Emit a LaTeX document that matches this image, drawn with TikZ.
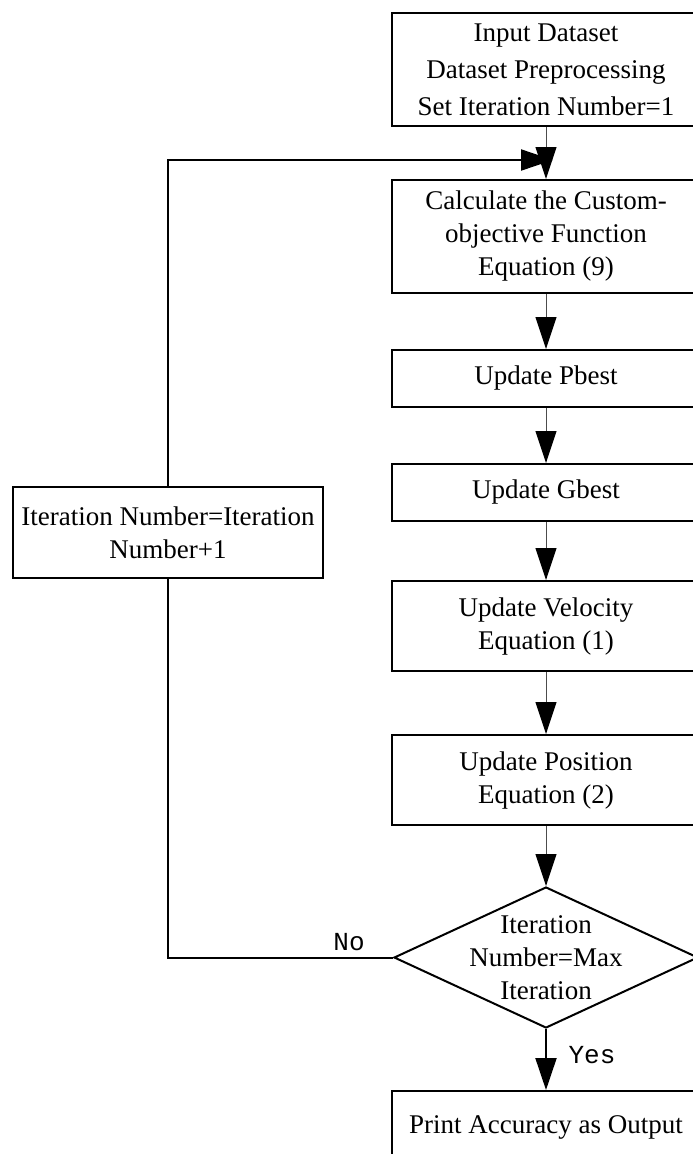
\documentclass[tikz,border=0pt]{standalone}
\usepackage{fontspec}
\setmainfont{Liberation Serif}
\newfontfamily\tagfont{Liberation Mono}
\usetikzlibrary{arrows.meta, positioning, shapes.geometric}

\begin{document}
\begin{tikzpicture}[x=1pt, y=-1pt,
  box/.style={rectangle, draw, line width=2pt, minimum width=308pt, inner sep=0pt, align=center, font=\fontsize{27}{33}\selectfont},
  decision/.style={diamond, draw, line width=2pt, minimum width=304pt, minimum height=141pt, inner sep=0pt},
  flow/.style={draw=black!70, line width=1pt, -{Triangle[length=32pt, width=21pt, color=black]}},
  loopline/.style={line width=2pt},
  tag/.style={font=\tagfont\fontsize{26}{26}\selectfont}]

\useasboundingbox (0,0) rectangle (693,1154);
\clip (0,0) rectangle (693,1154);

% main column
\node[box, minimum height=113pt, font=\fontsize{27}{37}\selectfont] (input) at (546,69.5) {Input Dataset\\Dataset Preprocessing\\Set Iteration Number=1};
\node[box, minimum height=113pt] (calc) at (546,236.5) {Calculate the Custom-\\objective Function\\Equation (9)};
\node[box, minimum height=57pt] (pbest) at (546,378.5) {Update Pbest};
\node[box, minimum height=57pt] (gbest) at (546,492.5) {Update Gbest};
\node[box, minimum height=90pt] (vel) at (546,626) {Update Velocity\\Equation (1)};
\node[box, minimum height=90pt] (pos) at (546,780) {Update Position\\Equation (2)};
\node[decision, label={[align=center, font=\fontsize{27}{33}\selectfont]center:Iteration\\Number=Max\\Iteration}] (check) at (546,957.5) {};
\node[box, minimum height=72pt] (out) at (546,1127) {Print Accuracy as Output};

% loop back
\node[box, minimum width=310pt, minimum height=91pt] (iter) at (168,532.5) {Iteration Number=Iteration\\Number+1};
\coordinate (merge) at (553,160);

\draw[flow] (input) -- (calc);
\draw[flow] (calc) -- (pbest);
\draw[flow] (pbest) -- (gbest);
\draw[flow] (gbest) -- (vel);
\draw[flow] (vel) -- (pos);
\draw[flow] (pos) -- (check);
\draw[flow, draw=black, line width=2pt] (check) -- (out);
\draw[loopline] (check.west) -| (iter.south);
\draw[loopline, -{Triangle[length=32pt, width=21pt]}] (iter.north) |- (merge);

\node[tag] (no) at (349,942) {No};
\node[tag] (yes) at (592,1055) {Yes};
\end{tikzpicture}
\end{document}
